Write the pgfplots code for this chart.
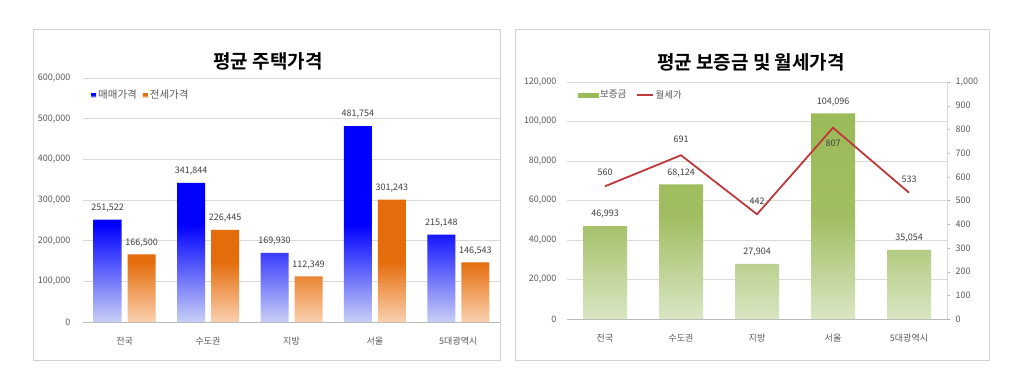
\documentclass[border=0pt]{standalone}
\usepackage{fontspec}
\setmainfont{Noto Sans CJK KR}[BoldFont={Noto Sans CJK KR Bold}]
\usepackage{pgfplots}
\pgfplotsset{compat=1.18}
\definecolor{tickgray}{RGB}{89,89,89}
\definecolor{labgray}{RGB}{64,64,64}
\definecolor{gridgray}{RGB}{217,217,217}
\definecolor{xblue}{RGB}{0,0,255}
\definecolor{xbluelight}{RGB}{200,208,245}
\definecolor{xorange}{RGB}{228,108,10}
\definecolor{xorangelight}{RGB}{250,208,175}
\definecolor{xgreen}{RGB}{155,187,89}
\definecolor{xgreenlight}{RGB}{218,230,196}
\definecolor{xred}{RGB}{192,56,60}
\pgfplotsset{
  /pgf/number format/assume math mode=true,
  /pgf/number format/fixed,
  /pgf/number format/precision=0,
  /pgf/number format/1000 sep={,},
  common/.style={
    scale only axis,
    anchor=south west,
    xmin=-0.5, xmax=4.5,
    scaled y ticks=false,
    yticklabel={\pgfmathprintnumber[fixed,precision=0,1000 sep={,},assume math mode=true]{\tick}},
    tick style={draw=none},
    tick label style={font=\fontsize{9}{10}\selectfont, text=tickgray},
    ymajorgrids, grid style={gridgray},
    axis line style={-},
  },
}
\begin{document}
\begin{tikzpicture}
\path[use as bounding box, fill=white] (0pt,0pt) rectangle (1024pt,384pt);
\draw[gray!35] (33pt,24pt) rectangle (500pt,355pt);
\draw[gray!35] (515pt,24pt) rectangle (989pt,355pt);
\node[font=\bfseries\fontsize{19}{21}\selectfont] at (268pt,323pt) {평균 주택가격};
\node[font=\bfseries\fontsize{19}{21}\selectfont] at (751pt,322pt) {평균 보증금 및 월세가격};

% ---------- left chart ----------
\begin{axis}[common,
  at={(83pt,62pt)}, width=417pt, height=244pt,
  ymin=0, ymax=600000, ytick distance=100000,
  xtick={0,1,2,3,4}, xticklabels={전국,수도권,지방,서울,5대광역시},
  xticklabel style={yshift=-7pt},
  yticklabel style={xshift=-9pt},
  axis x line*=bottom, axis y line*=left,
  y axis line style={draw=none}, x axis line style={draw=gray!55},
  ybar=6pt, bar width=28pt,
  point meta=rawy,
  nodes near coords={\pgfmathprintnumber[fixed,precision=0,1000 sep={,},assume math mode=true]{\pgfplotspointmeta}},
  every node near coord/.append style={font=\fontsize{9}{10}\selectfont, text=labgray, yshift=4pt},
  legend style={at={(0.012,0.93)}, anchor=west, draw=none, fill=none,
    legend columns=-1, font=\fontsize{10.5}{12}\selectfont, text=tickgray,
    /tikz/every even column/.append style={column sep=4pt}},
]
\addplot[draw=none, top color=xblue, bottom color=xbluelight, middle color=xblue,
  legend image code/.code={\fill[xblue] (0pt,-2pt) rectangle (5pt,2pt);}]
  coordinates {(0,251522) (1,341844) (2,169930) (3,481754) (4,215148)};
\addlegendentry{매매가격}
\addplot[draw=none, top color=xorange, bottom color=xorangelight, middle color=xorange,
  legend image code/.code={\fill[xorange] (0pt,-2pt) rectangle (5pt,2pt);}]
  coordinates {(0,166500) (1,226445) (2,112349) (3,301243) (4,146543)};
\addlegendentry{전세가격}
\end{axis}

% ---------- right chart: bars ----------
\begin{axis}[common,
  at={(567pt,65pt)}, width=380pt, height=237pt,
  ymin=0, ymax=120000, ytick distance=20000,
  xtick={0,1,2,3,4}, xticklabels={전국,수도권,지방,서울,5대광역시},
  xticklabel style={yshift=-7pt},
  yticklabel style={xshift=-7pt},
  axis x line*=bottom, axis y line*=left,
  y axis line style={draw=none}, x axis line style={draw=gray!55},
  ybar, bar width=44pt,
  point meta=rawy,
  nodes near coords={\pgfmathprintnumber[fixed,precision=0,1000 sep={,},assume math mode=true]{\pgfplotspointmeta}},
  every node near coord/.append style={font=\fontsize{9}{10}\selectfont, text=labgray, yshift=4pt},
]
\addplot[draw=none, top color=xgreen, bottom color=xgreenlight, middle color=xgreen!95!white]
  coordinates {(0,46993) (1,68124) (2,27904) (3,104096) (4,35054)};
\end{axis}

% ---------- right chart: line ----------
\begin{axis}[common,
  at={(567pt,65pt)}, width=380pt, height=237pt,
  ymin=0, ymax=1000, ytick distance=100,
  ymajorgrids=false,
  axis y line*=right, axis x line=none,
  y axis line style={draw=gray!30},
  ytick style={draw=gray!60}, tick align=outside, major tick length=3pt,
  yticklabel style={xshift=2pt},
  legend style={at={(0.02,0.945)}, anchor=west, draw=none, fill=none,
    legend columns=-1, font=\fontsize{9.5}{11}\selectfont, text=tickgray,
    /tikz/every even column/.append style={column sep=8pt}},
]
\addlegendimage{legend image code/.code={\fill[xgreen] (0pt,-2pt) rectangle (20pt,2pt);}}
\addlegendentry{보증금}
\addplot[xred, line width=1.8pt, mark=none,
  legend image code/.code={\draw[xred, line width=1.2pt] (0pt,0pt) -- (16pt,0pt);},
  nodes near coords, point meta=explicit symbolic,
  visualization depends on={value \thisrow{a} \as \myanc},
  visualization depends on={\thisrow{s} \as \mysh},
  every node near coord/.append style={font=\fontsize{9}{10}\selectfont, text=labgray, anchor=\myanc, yshift=\mysh pt},
] table[x=x, y=y, meta=lab] {
x y lab a s
0 560 560 south 6
1 691 691 south 8
2 442 442 south 6
3 807 807 north -8
4 533 533 south 6
};
\addlegendentry{월세가}
\end{axis}
\end{tikzpicture}
\end{document}
